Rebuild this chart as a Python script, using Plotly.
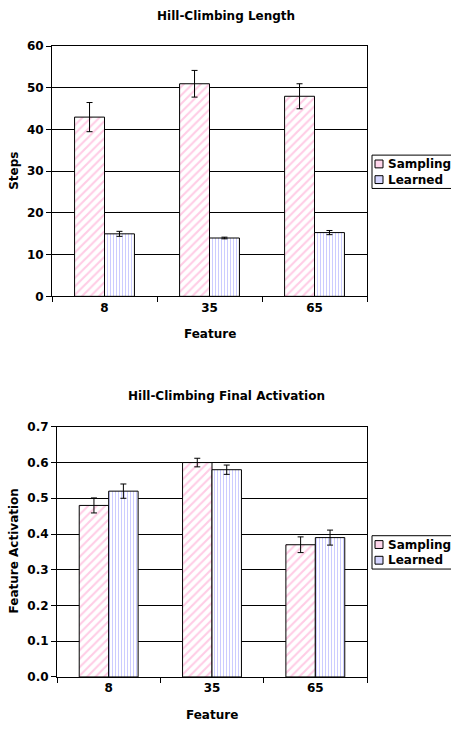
import plotly.graph_objects as go

features = ["8", "35", "65"]
steps_sampling = [43, 51, 48]
steps_sampling_err = [3.5, 3.2, 3.0]
steps_learned = [15, 14, 15.3]
steps_learned_err = [0.6, 0.2, 0.5]
act_sampling = [0.48, 0.60, 0.37]
act_sampling_err = [0.021, 0.012, 0.022]
act_learned = [0.52, 0.58, 0.39]
act_learned_err = [0.02, 0.013, 0.021]
series_names = ["Sampling", "Learned"]

PINK = "#FF99CC"
BLUE = "#9999FF"
FONT = "DejaVu Sans"
W, H = 451, 733

def bar(x, y, err, name, color, shape, xa, ya, size):
    return go.Bar(
        x=x, y=y, name=name, xaxis=xa, yaxis=ya, showlegend=False,
        marker=dict(color="white", line=dict(color="black", width=1),
                    pattern=dict(shape=shape, fgcolor=color, bgcolor="white",
                                 size=size, solidity=0.35, fillmode="overlay")),
        error_y=dict(type="data", array=err, color="black", thickness=1, width=3),
    )

fig = go.Figure()
fig.add_trace(bar(features, steps_sampling, steps_sampling_err, series_names[0], PINK, "/", "x", "y", 6))
fig.add_trace(bar(features, steps_learned, steps_learned_err, series_names[1], BLUE, "|", "x", "y", 3))
fig.add_trace(bar(features, act_sampling, act_sampling_err, series_names[0], PINK, "/", "x2", "y2", 6))
fig.add_trace(bar(features, act_learned, act_learned_err, series_names[1], BLUE, "|", "x2", "y2", 3))

axis_common = dict(showline=True, linecolor="black", linewidth=1, mirror=True,
                   tickfont=dict(family=FONT, size=12, color="black", weight="bold"))
xcommon = dict(axis_common, type="category", ticks="outside", tickson="boundaries",
               ticklen=5, tickcolor="black", showgrid=False)
ycommon = dict(axis_common, ticks="outside", ticklen=5, tickcolor="black",
               showgrid=True, gridcolor="black", gridwidth=1, zeroline=False)

def px(x): return x / W
def py(y): return 1 - y / H

annotations = []
shapes = []

def text(t, x, y, size, angle=0, xanchor="center"):
    annotations.append(dict(text=t, x=px(x), y=py(y), xref="paper", yref="paper",
                            xanchor=xanchor, yanchor="middle", showarrow=False, textangle=angle,
                            font=dict(family=FONT, size=size, color="black", weight="bold")))

def legend(top):
    shapes.append(dict(type="rect", xref="paper", yref="paper",
                       x0=px(372), x1=px(452), y0=py(top), y1=py(top + 34),
                       line=dict(color="black", width=1), fillcolor="white"))
    for i, (name, fill) in enumerate(zip(series_names, ["#FFD6EB", "#D6D6FF"])):
        cy = top + 9 + i * 16
        shapes.append(dict(type="rect", xref="paper", yref="paper",
                           x0=px(375), x1=px(383), y0=py(cy - 4), y1=py(cy + 4),
                           line=dict(color="black", width=1), fillcolor=fill))
        text(name, 386, cy, 12, xanchor="left")

text("Hill-Climbing Length", 226, 9, 12)
text("Steps", 14, 167, 12, angle=-90)
text("Feature", 210, 333, 12)
legend(151)

text("Hill-Climbing Final Activation", 226, 397, 12)
text("Feature Activation", 14, 555, 12, angle=-90)
text("Feature", 212, 722, 12)
legend(539)

fig.update_layout(
    width=W, height=H,
    margin=dict(l=0, r=0, t=0, b=0),
    paper_bgcolor="white", plot_bgcolor="white",
    barmode="group", bargap=0.43, bargroupgap=0,
    font=dict(family=FONT, color="black"),
    showlegend=False,
    xaxis=dict(xcommon, domain=[px(52), px(367)], anchor="y"),
    yaxis=dict(ycommon, domain=[py(295), py(40)], anchor="x", range=[0, 60], dtick=10),
    xaxis2=dict(xcommon, domain=[px(57), px(367)], anchor="y2"),
    yaxis2=dict(ycommon, domain=[py(683), py(428)], anchor="x2", range=[0, 0.7], dtick=0.1,
                tickformat=".1f"),
    annotations=annotations,
    shapes=shapes,
)

fig.write_html("out.html", config={"displayModeBar": False},
               post_script="document.body.style.margin='0';document.body.style.overflow='hidden';")
